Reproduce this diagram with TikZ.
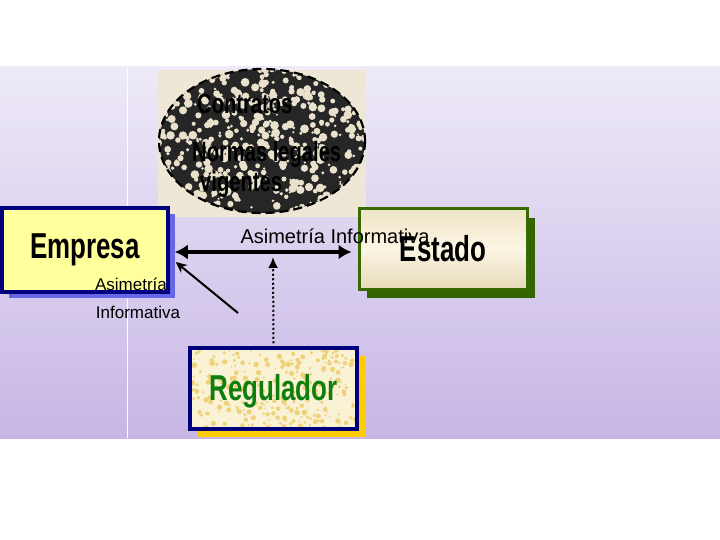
\documentclass[tikz,border=0pt]{standalone}
\usepackage{fontspec}
\setmainfont{Liberation Sans}
\newfontfamily\condb[FakeStretch=0.72]{Liberation Sans Bold}
\usetikzlibrary{arrows.meta,shadows,calc,shapes.geometric}
\definecolor{bgtop}{HTML}{EEEAF8}
\definecolor{bgbot}{HTML}{C7B6E5}
\definecolor{navy}{HTML}{00007F}
\definecolor{empfill}{HTML}{FFFF9C}
\definecolor{empshadow}{HTML}{6666E6}
\definecolor{estborder}{HTML}{376A00}
\definecolor{estshadow}{HTML}{336400}
\definecolor{esttop}{HTML}{EFE5C6}
\definecolor{estmid}{HTML}{FCF5E4}
\definecolor{estbot}{HTML}{E6DABA}
\definecolor{regfill}{HTML}{FAF2D4}
\definecolor{regspot}{HTML}{EED27A}
\definecolor{regshadow}{HTML}{FFCC00}
\definecolor{reggreen}{HTML}{0E7E0E}
\definecolor{creamimg}{HTML}{EFE7D5}
\definecolor{ellspot}{HTML}{E9E1CC}
\tikzset{
  bigword/.style={font=\condb\fontsize{36bp}{40bp}\selectfont},
  ellword/.style={font=\condb\fontsize{28bp}{32bp}\selectfont, anchor=base west, inner sep=0},
  smalllabel/.style={font=\fontsize{17bp}{20bp}\selectfont, inner sep=0},
  toplabel/.style={font=\fontsize{20bp}{24bp}\selectfont, inner sep=0},
  boxbase/.style={rectangle, inner sep=0, line width=3.5bp},
  mainarrow/.style={{Latex[length=13bp,width=15bp]}-{Latex[length=13bp,width=15bp]}, line width=3.5bp},
  diagarrow/.style={-{Stealth[length=11bp,width=10bp]}, line width=2bp},
  dotarrow/.style={-{Latex[length=11bp,width=10bp]}, line width=2bp, dash pattern=on 2bp off 2.5bp},
}
\begin{document}
\begin{tikzpicture}[x=1bp,y=-1bp]
\useasboundingbox (0,0) rectangle (720,540);
\fill[white] (0,0) rectangle (720,540);
\shade[top color=bgtop,bottom color=bgbot] (0,67) rectangle (720,438);
\draw[white,line width=1bp] (127,67) -- (127,438);
% image behind ellipse
\fill[creamimg] (158,70) rectangle (366,217);
\node[ellipse, minimum width=206bp, minimum height=144bp, inner sep=0,
      fill=black!85] (ell) at (262,141) {};
\begin{scope}
  \clip (262,141) ellipse [x radius=103, y radius=72];
  \pgfmathsetseed{11}
  \foreach \i in {1,...,520}{
    \pgfmathsetmacro{\px}{155+215*rnd}
    \pgfmathsetmacro{\py}{66+150*rnd}
    \pgfmathsetmacro{\pr}{1.0+3.4*rnd}
    \fill[ellspot] (\px,\py) circle[radius=\pr];
  }
\end{scope}
\draw[black, line width=2.2bp, dash pattern=on 9bp off 5bp] (ell.center) ellipse [x radius=103, y radius=72];
\node[ellword] (t1) at (197,114) {Contratos};
\node[ellword] (t2) at (192,162) {Normas legales};
\node[ellword] (t3) at (200,192) {vigentes};
% boxes
\node[boxbase, draw=navy, fill=empfill, minimum width=166bp, minimum height=84bp,
      drop shadow={fill=empshadow, opacity=1, shadow xshift=7bp, shadow yshift=-6bp},
      bigword] (emp) at (85,250) {Empresa};
\node[boxbase, draw=estborder, line width=3bp, minimum width=168bp, minimum height=80bp,
      top color=esttop, bottom color=estbot, middle color=estmid,
      drop shadow={fill=estshadow, opacity=1, shadow xshift=8bp, shadow yshift=-9bp},
      bigword] (est) at (443,249) {Estado};
\node[boxbase, draw=navy, fill=regfill, minimum width=167bp, minimum height=81bp,
      drop shadow={fill=regshadow, opacity=1, shadow xshift=8bp, shadow yshift=-8bp}]
      (regbox) at (273.5,388.5) {};
\begin{scope}
  \clip (190,348) rectangle (357,429);
  \pgfmathsetseed{5}
  \foreach \i in {1,...,300}{
    \pgfmathsetmacro{\px}{188+172*rnd}
    \pgfmathsetmacro{\py}{346+86*rnd}
    \pgfmathsetmacro{\pr}{0.8+2.0*rnd}
    \fill[regspot] (\px,\py) circle[radius=\pr];
  }
\end{scope}
\draw[navy, line width=3.5bp] (regbox.north west) ++(1.75,1.75) rectangle ($(regbox.south east)+(-1.75,-1.75)$);
\node[bigword, text=reggreen, inner sep=0] (reg) at ($(regbox.center)+(0,3)$) {Regulador};
% labels
\node[toplabel] (lab1) at (335,236) {Asimetría Informativa};
\node[smalllabel] (lab2) at (131,284) {Asimetría};
\node[smalllabel] (lab3) at (138,312) {Informativa};
% connectors
\coordinate (d1) at (238,313);
\coordinate (dtop) at (273,257);
\draw[mainarrow] ($(emp.east)+(5,2)$) -- ($(est.west)+(-6,3)$);
\draw[diagarrow] (d1) -- ($(emp.east)+(6,12)$);
\draw[dotarrow] ($(regbox.north)+(0,-3)$) -- (dtop);
\end{tikzpicture}
\end{document}
